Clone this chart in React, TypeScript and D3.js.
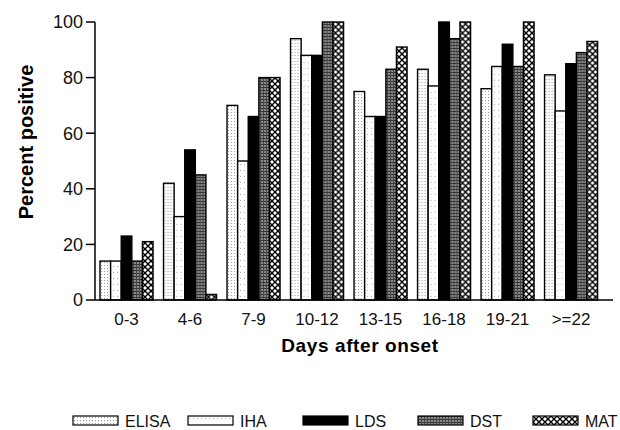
import React from 'react';
import * as d3 from 'd3';

const categories = ['0-3', '4-6', '7-9', '10-12', '13-15', '16-18', '19-21', '>=22'];
const seriesNames = ['ELISA', 'IHA', 'LDS', 'DST', 'MAT'];
const elisa = [14, 42, 70, 94, 75, 83, 76, 81];
const iha = [14, 30, 50, 88, 66, 77, 84, 68];
const lds = [23, 54, 66, 88, 66, 100, 92, 85];
const dst = [14, 45, 80, 100, 83, 94, 84, 89];
const mat = [21, 2, 80, 100, 91, 100, 100, 93];
const yTicks = [0, 20, 40, 60, 80, 100];

const seriesValues = [elisa, iha, lds, dst, mat];
const fills = ['url(#pElisa)', 'url(#pIha)', '#000', 'url(#pDst)', 'url(#pMat)'];

const W = 620;
const H = 430;
const font = '"Liberation Sans", Arial, Helvetica, sans-serif';

export default function App() {
  const axisLeft = 95;
  const axisRight = 613;
  const y = d3.scaleLinear().domain([0, 100]).range([300, 22]);
  const x0 = d3.scaleBand<string>()
    .domain(categories)
    .range([95, 602.6])
    .paddingInner(0.165)
    .paddingOuter(0.079);
  const x1 = d3.scaleBand<string>()
    .domain(seriesNames)
    .range([0, x0.bandwidth()]);
  const legendX = d3.scaleBand<string>()
    .domain(seriesNames)
    .range([73, 73 + 115 * 5]);

  return (
    <svg width={W} height={H} style={{ position: 'absolute', left: 0, top: 0, background: '#fff' }}
      fontFamily={font}>
      <defs>
        <pattern id="pElisa" width="3" height="3" patternUnits="userSpaceOnUse">
          <rect width="3" height="3" fill="#fff" />
          <rect x="1" y="1" width="1" height="1" fill="#9a9a9a" />
        </pattern>
        <pattern id="pIha" width="4" height="6" patternUnits="userSpaceOnUse">
          <rect width="4" height="6" fill="#fff" />
          <rect x="1" y="2" width="1" height="1" fill="#b0b0b0" />
        </pattern>
        <pattern id="pDst" width="3" height="3" patternUnits="userSpaceOnUse">
          <rect width="3" height="3" fill="#8a8a8a" />
          <rect x="0" y="0" width="3" height="1" fill="#333" />
          <rect x="0" y="0" width="1" height="3" fill="#444" />
        </pattern>
        <pattern id="pMat" width="6" height="6" patternUnits="userSpaceOnUse">
          <rect width="6" height="6" fill="#fff" />
          <path d="M0,0 L6,6 M6,0 L0,6" stroke="#000" strokeWidth="1.4" />
        </pattern>
      </defs>

      {/* bars */}
      {categories.map((c, ci) => (
        <g key={c} transform={`translate(${x0(c)},0)`}>
          {seriesNames.map((s, si) => {
            const v = seriesValues[si][ci];
            return (
              <rect key={s}
                x={x1(s)} y={y(v)}
                width={x1.bandwidth()} height={y(0) - y(v)}
                fill={fills[si]} stroke="#000" strokeWidth={1.4} />
            );
          })}
        </g>
      ))}

      {/* y axis */}
      <line x1={axisLeft} x2={axisLeft} y1={y(100)} y2={y(0)} stroke="#000" strokeWidth={1.5} />
      {yTicks.map(t => (
        <g key={t}>
          <line x1={axisLeft - 9} x2={axisLeft} y1={y(t)} y2={y(t)} stroke="#000" strokeWidth={1.5} />
          <text x={axisLeft - 12} y={y(t)} dy="0.35em" textAnchor="end" fontSize={18} fill="#111">{t}</text>
        </g>
      ))}
      {/* x axis */}
      <line x1={axisLeft} x2={axisRight} y1={y(0)} y2={y(0)} stroke="#000" strokeWidth={1.5} />
      {categories.map(c => (
        <text key={c} x={(x0(c) ?? 0) + x0.bandwidth() / 2} y={325} textAnchor="middle" fontSize={17} fill="#111">{c}</text>
      ))}

      <text x={360} y={352} textAnchor="middle" fontSize={19} fontWeight="bold" letterSpacing={0.6} fill="#000">Days after onset</text>
      <text transform="translate(33,142) rotate(-90)" textAnchor="middle" fontSize={20} fontWeight="bold" fill="#000">Percent positive</text>

      {/* legend */}
      {seriesNames.map((s, si) => (
        <g key={s} transform={`translate(${legendX(s)},416)`}>
          <rect x={0} y={0} width={45} height={9} fill={fills[si]} stroke="#000" strokeWidth={1.2} />
          <text x={52} y={11} fontSize={16} fill="#111">{s}</text>
        </g>
      ))}
    </svg>
  );
}
